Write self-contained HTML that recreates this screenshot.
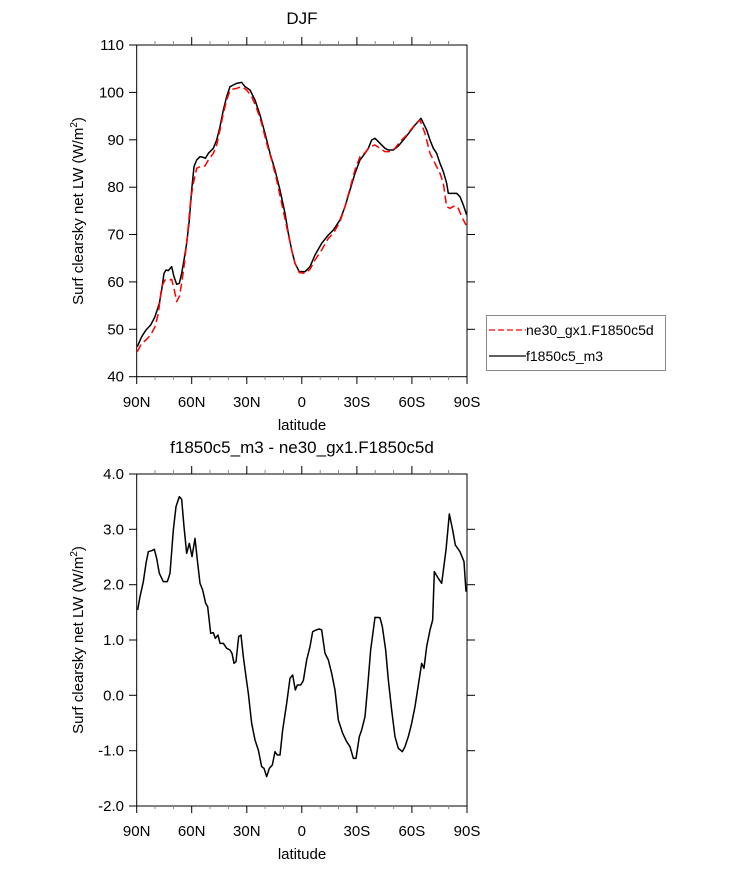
<!DOCTYPE html>
<html><head><meta charset="utf-8"><style>
html,body{margin:0;padding:0;background:#fff;}
svg{display:block;font-family:"Liberation Sans",Arial,sans-serif;}
</style></head><body>
<svg width="733" height="869" viewBox="0 0 733 869" xmlns="http://www.w3.org/2000/svg">
<rect width="733" height="869" fill="#fff"/>
<text x="302" y="24" font-size="17" text-anchor="middle">DJF</text>
<g id="top">
<rect x="136.7" y="45" width="330.3" height="331.7" fill="none" stroke="#000" stroke-width="1"/>
<g stroke="#000" stroke-width="1">
<line x1="136.7" y1="45" x2="129" y2="45"/><line x1="136.7" y1="92.4" x2="129" y2="92.4"/><line x1="136.7" y1="139.8" x2="129" y2="139.8"/><line x1="136.7" y1="187.2" x2="129" y2="187.2"/><line x1="136.7" y1="234.5" x2="129" y2="234.5"/><line x1="136.7" y1="281.9" x2="129" y2="281.9"/><line x1="136.7" y1="329.3" x2="129" y2="329.3"/><line x1="136.7" y1="376.7" x2="129" y2="376.7"/>
<line x1="467" y1="92.4" x2="475" y2="92.4"/><line x1="467" y1="139.8" x2="475" y2="139.8"/><line x1="467" y1="187.2" x2="475" y2="187.2"/><line x1="467" y1="234.5" x2="475" y2="234.5"/><line x1="467" y1="281.9" x2="475" y2="281.9"/><line x1="467" y1="329.3" x2="475" y2="329.3"/>
<line x1="136.7" y1="376.7" x2="136.7" y2="384"/><line x1="191.7" y1="376.7" x2="191.7" y2="384"/><line x1="246.8" y1="376.7" x2="246.8" y2="384"/><line x1="301.8" y1="376.7" x2="301.8" y2="384"/><line x1="356.9" y1="376.7" x2="356.9" y2="384"/><line x1="411.9" y1="376.7" x2="411.9" y2="384"/><line x1="467" y1="376.7" x2="467" y2="384"/>
<line x1="191.7" y1="45" x2="191.7" y2="37"/><line x1="246.8" y1="45" x2="246.8" y2="37"/><line x1="301.8" y1="45" x2="301.8" y2="37"/><line x1="356.9" y1="45" x2="356.9" y2="37"/><line x1="411.9" y1="45" x2="411.9" y2="37"/>
</g>
<g stroke="#888" stroke-width="1">
<line x1="155" y1="376.7" x2="155" y2="380"/><line x1="173.4" y1="376.7" x2="173.4" y2="380"/><line x1="210" y1="376.7" x2="210" y2="380"/><line x1="228.4" y1="376.7" x2="228.4" y2="380"/><line x1="265.1" y1="376.7" x2="265.1" y2="380"/><line x1="283.5" y1="376.7" x2="283.5" y2="380"/><line x1="320.2" y1="376.7" x2="320.2" y2="380"/><line x1="338.5" y1="376.7" x2="338.5" y2="380"/><line x1="375.2" y1="376.7" x2="375.2" y2="380"/><line x1="393.6" y1="376.7" x2="393.6" y2="380"/><line x1="430.3" y1="376.7" x2="430.3" y2="380"/><line x1="448.6" y1="376.7" x2="448.6" y2="380"/>
<line x1="155" y1="45" x2="155" y2="41"/><line x1="173.4" y1="45" x2="173.4" y2="41"/><line x1="210" y1="45" x2="210" y2="41"/><line x1="228.4" y1="45" x2="228.4" y2="41"/><line x1="265.1" y1="45" x2="265.1" y2="41"/><line x1="283.5" y1="45" x2="283.5" y2="41"/><line x1="320.2" y1="45" x2="320.2" y2="41"/><line x1="338.5" y1="45" x2="338.5" y2="41"/><line x1="375.2" y1="45" x2="375.2" y2="41"/><line x1="393.6" y1="45" x2="393.6" y2="41"/><line x1="430.3" y1="45" x2="430.3" y2="41"/><line x1="448.6" y1="45" x2="448.6" y2="41"/>
</g>
<g font-size="15" text-anchor="end">
<text x="124" y="50">110</text><text x="124" y="97.4">100</text><text x="124" y="144.8">90</text><text x="124" y="192.2">80</text><text x="124" y="239.5">70</text><text x="124" y="286.9">60</text><text x="124" y="334.3">50</text><text x="124" y="381.7">40</text>
</g>
<g font-size="15" text-anchor="middle">
<text x="136.7" y="407">90N</text><text x="191.7" y="407">60N</text><text x="246.8" y="407">30N</text><text x="301.8" y="407">0</text><text x="356.9" y="407">30S</text><text x="411.9" y="407">60S</text><text x="467" y="407">90S</text>
<text x="302" y="430">latitude</text>
</g>
<text transform="translate(83,211) rotate(-90)" font-size="15" text-anchor="middle">Surf clearsky net LW (W/m<tspan font-size="10" dy="-6">2</tspan><tspan dy="6">)</tspan></text>
<g transform="translate(60,20) scale(0.33333)" fill="none" stroke-linejoin="round">
<polyline stroke="#000" stroke-width="4.5" points="232,980 245,950 258,930 272,915 285,890 298,850 305,810 312,760 318,750 325,752 335,740 342,770 350,793 358,790 365,760 372,720 380,670 388,600 395,510 402,440 410,420 420,410 430,412 436,415 445,400 460,385 470,360 480,320 490,270 500,230 510,200 520,195 530,190 545,187 555,200 570,210 585,240 600,285 615,340 630,400 645,450 660,510 675,580 685,640 695,690 705,730 718,755 735,755 750,740 765,705 785,670 805,645 820,630 840,600 855,560 870,510 885,460 900,420 915,400 925,385 935,360 945,355 960,370 975,385 985,390 1000,390 1015,378 1030,360 1050,335 1065,315 1083,295 1100,330 1110,360 1120,385 1130,400 1140,430 1150,455 1160,490 1165,520 1175,520 1190,520 1200,530 1210,555 1220,585"/>
<polyline stroke="#f00" stroke-width="4.5" stroke-dasharray="24,12" points="232,995 245,970 258,960 272,945 285,920 295,880 305,800 315,780 325,782 335,778 343,810 350,845 358,830 365,790 372,740 382,650 392,540 400,490 410,445 420,440 435,438 445,420 460,400 470,375 480,330 490,280 500,240 510,212 520,207 530,205 545,200 560,210 575,230 590,265 605,310 620,370 635,420 650,480 665,550 680,620 695,690 705,730 718,758 735,760 750,748 765,720 785,690 805,655 820,640 840,605 855,560 870,505 885,450 900,410 915,398 930,380 945,375 960,385 975,395 990,395 1005,385 1020,365 1040,345 1060,320 1080,300 1095,340 1110,400 1125,430 1140,460 1150,490 1160,560 1170,565 1185,557 1195,565 1205,590 1218,615"/>
</g>
</g>
<rect x="486.5" y="315.5" width="179" height="55" fill="#fff" stroke="#888" stroke-width="1"/>
<line x1="489" y1="330" x2="526" y2="330" stroke="#f00" stroke-width="1.3" stroke-dasharray="6,3"/>
<line x1="489" y1="356" x2="526" y2="356" stroke="#000" stroke-width="1.3"/>
<text x="526" y="335" font-size="14">ne30_gx1.F1850c5d</text>
<text x="526" y="361" font-size="14">f1850c5_m3</text>
<text x="302" y="453" font-size="17" text-anchor="middle">f1850c5_m3 - ne30_gx1.F1850c5d</text>
<rect x="136.7" y="474" width="330.3" height="332" fill="none" stroke="#000" stroke-width="1"/>
<g stroke="#000" stroke-width="1">
<line x1="136.7" y1="474" x2="129" y2="474"/><line x1="136.7" y1="529.3" x2="129" y2="529.3"/><line x1="136.7" y1="584.7" x2="129" y2="584.7"/><line x1="136.7" y1="640" x2="129" y2="640"/><line x1="136.7" y1="695.3" x2="129" y2="695.3"/><line x1="136.7" y1="750.7" x2="129" y2="750.7"/><line x1="136.7" y1="806" x2="129" y2="806"/>
<line x1="467" y1="529.3" x2="475" y2="529.3"/><line x1="467" y1="584.7" x2="475" y2="584.7"/><line x1="467" y1="640" x2="475" y2="640"/><line x1="467" y1="695.3" x2="475" y2="695.3"/><line x1="467" y1="750.7" x2="475" y2="750.7"/>
<line x1="136.7" y1="806" x2="136.7" y2="813"/><line x1="191.7" y1="806" x2="191.7" y2="813"/><line x1="246.8" y1="806" x2="246.8" y2="813"/><line x1="301.8" y1="806" x2="301.8" y2="813"/><line x1="356.9" y1="806" x2="356.9" y2="813"/><line x1="411.9" y1="806" x2="411.9" y2="813"/><line x1="467" y1="806" x2="467" y2="813"/>
<line x1="191.7" y1="474" x2="191.7" y2="466"/><line x1="246.8" y1="474" x2="246.8" y2="466"/><line x1="301.8" y1="474" x2="301.8" y2="466"/><line x1="356.9" y1="474" x2="356.9" y2="466"/><line x1="411.9" y1="474" x2="411.9" y2="466"/>
</g>
<g stroke="#888" stroke-width="1">
<line x1="155" y1="806" x2="155" y2="809"/><line x1="173.4" y1="806" x2="173.4" y2="809"/><line x1="210" y1="806" x2="210" y2="809"/><line x1="228.4" y1="806" x2="228.4" y2="809"/><line x1="265.1" y1="806" x2="265.1" y2="809"/><line x1="283.5" y1="806" x2="283.5" y2="809"/><line x1="320.2" y1="806" x2="320.2" y2="809"/><line x1="338.5" y1="806" x2="338.5" y2="809"/><line x1="375.2" y1="806" x2="375.2" y2="809"/><line x1="393.6" y1="806" x2="393.6" y2="809"/><line x1="430.3" y1="806" x2="430.3" y2="809"/><line x1="448.6" y1="806" x2="448.6" y2="809"/>
<line x1="155" y1="474" x2="155" y2="470"/><line x1="173.4" y1="474" x2="173.4" y2="470"/><line x1="210" y1="474" x2="210" y2="470"/><line x1="228.4" y1="474" x2="228.4" y2="470"/><line x1="265.1" y1="474" x2="265.1" y2="470"/><line x1="283.5" y1="474" x2="283.5" y2="470"/><line x1="320.2" y1="474" x2="320.2" y2="470"/><line x1="338.5" y1="474" x2="338.5" y2="470"/><line x1="375.2" y1="474" x2="375.2" y2="470"/><line x1="393.6" y1="474" x2="393.6" y2="470"/><line x1="430.3" y1="474" x2="430.3" y2="470"/><line x1="448.6" y1="474" x2="448.6" y2="470"/>
</g>
<g font-size="15" text-anchor="end">
<text x="124" y="479">4.0</text><text x="124" y="534.3">3.0</text><text x="124" y="589.7">2.0</text><text x="124" y="645">1.0</text><text x="124" y="700.3">0.0</text><text x="124" y="755.7">-1.0</text><text x="124" y="811">-2.0</text>
</g>
<g font-size="15" text-anchor="middle">
<text x="136.7" y="836">90N</text><text x="191.7" y="836">60N</text><text x="246.8" y="836">30N</text><text x="301.8" y="836">0</text><text x="356.9" y="836">30S</text><text x="411.9" y="836">60S</text><text x="467" y="836">90S</text>
<text x="302" y="859">latitude</text>
</g>
<text transform="translate(83,640) rotate(-90)" font-size="15" text-anchor="middle">Surf clearsky net LW (W/m<tspan font-size="10" dy="-6">2</tspan><tspan dy="6">)</tspan></text>
<g transform="translate(60,430) scale(0.33333)" fill="none" stroke-linejoin="round">
<polyline stroke="#000" stroke-width="4.5" points="233,540 240,500 250,455 258,400 265,365 275,362 283,358 290,385 298,430 310,455 322,455 330,430 340,300 348,230 358,200 365,208 372,290 380,370 388,340 396,380 405,325 412,390 420,460 428,480 437,520 443,530 452,610 460,608 466,625 474,615 480,640 490,640 500,655 510,660 516,670 522,700 528,695 536,620 543,615 550,680 558,740 565,790 575,880 585,930 595,960 605,1010 612,1015 620,1040 628,1015 637,1005 645,965 652,975 660,975 668,900 680,820 690,745 698,735 706,780 712,765 722,765 730,752 740,690 750,650 758,605 768,600 778,597 785,600 795,670 805,690 815,730 825,780 835,870 848,910 860,935 870,950 880,985 888,985 898,920 905,900 915,860 923,770 932,660 945,562 960,563 967,590 977,660 985,750 995,840 1005,920 1015,955 1027,965 1035,950 1045,920 1055,880 1065,830 1075,765 1085,700 1092,715 1100,650 1110,600 1118,570 1123,425 1135,445 1145,460 1158,360 1168,252 1178,300 1186,345 1200,365 1208,385 1212,395 1218,485"/>
</g>
</svg>
</body></html>
